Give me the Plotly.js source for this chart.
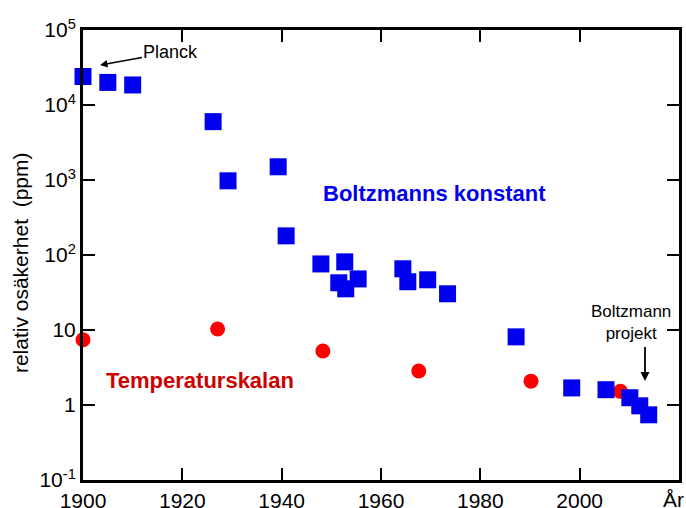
<!DOCTYPE html>
<html>
<head>
<meta charset="utf-8">
<script src="https://cdn.plot.ly/plotly-3.0.1.min.js"></script>
<style>html,body{margin:0;padding:0;background:#fff;}</style>
</head>
<body>
<div id="chart" style="width:686px;height:508px;"></div>
<script>
// Boltzmann constant determinations (blue squares)
const boltzYears = [1900, 1905, 1910, 1926.2, 1929.2, 1939.3, 1940.9, 1947.9, 1952.7, 1951.5, 1952.9, 1955.4, 1964.4, 1965.4, 1969.4, 1973.4, 1987.2, 1998.4, 2005.3, 2010.1, 2012.1, 2013.9];
const boltzPpm = [24000, 20000, 18500, 6000, 975, 1500, 180, 76, 81, 42.6, 35.4, 48, 65.5, 44, 46.7, 30.4, 8.1, 1.69, 1.6, 1.25, 0.975, 0.74];
// Temperature scale (red circles)
const tempYears = [1900, 1927.1, 1948.3, 1967.6, 1990.2, 2008.2];
const tempPpm = [7.4, 10.3, 5.25, 2.84, 2.08, 1.52];
// Axis ticks
const xTickVals = [1900, 1920, 1940, 1960, 1980, 2000];
const xTickText = ["1900", "1920", "1940", "1960", "1980", "2000"];
const yTickVals = [0.1, 1, 10, 100, 1000, 10000, 100000];
const yTickText = ["10<sup>-1</sup>", "1", "10", "10<sup>2</sup>", "10<sup>3</sup>", "10<sup>4</sup>", "10<sup>5</sup>"];

const FONT = '"Liberation Sans", Arial, sans-serif';

const traces = [
  {
    x: tempYears, y: tempPpm, type: 'scatter', mode: 'markers', cliponaxis: false,
    marker: {symbol: 'circle', size: 15, color: '#ff0000', line: {width: 0}},
    hoverinfo: 'skip'
  },
  {
    x: boltzYears, y: boltzPpm, type: 'scatter', mode: 'markers', cliponaxis: false,
    marker: {symbol: 'square', size: 17, color: '#0000ee', line: {width: 0}},
    hoverinfo: 'skip'
  }
];

const axisCommon = {
  showgrid: false, zeroline: false, showline: true, linewidth: 3, linecolor: '#000',
  ticks: 'inside', ticklen: 12, tickwidth: 2, tickcolor: '#000', mirror: 'ticks',
  tickfont: {family: FONT, size: 21, color: '#000'}
};

const layout = {
  width: 686, height: 508,
  margin: {l: 83, r: 7, t: 30, b: 28, pad: 0},
  paper_bgcolor: '#fff', plot_bgcolor: '#fff',
  showlegend: false,
  font: {family: FONT, color: '#000'},
  xaxis: Object.assign({}, axisCommon, {
    range: [1900, 2020], tickmode: 'array', tickvals: xTickVals, ticktext: xTickText,
    ticklabelstandoff: 0
  }),
  yaxis: Object.assign({}, axisCommon, {
    type: 'log', range: [-1, 5], tickmode: 'array', tickvals: yTickVals, ticktext: yTickText,
    ticklabelstandoff: 0
  }),
  annotations: [
    {xref: 'paper', yref: 'paper', x: 0.0285, y: 0.922, text: 'Planck',
     showarrow: true, ax: 71, ay: -13, arrowhead: 2, arrowsize: 1, arrowwidth: 1.5, arrowcolor: '#000',
     font: {family: FONT, size: 18, color: '#000'}},
    {xref: 'paper', yref: 'paper', x: 0.5906, y: 0.636, xanchor: 'center', yanchor: 'middle',
     text: '<b>Boltzmanns konstant</b>', showarrow: false,
     font: {family: FONT, size: 22, color: '#0000ee'}},
    {xref: 'paper', yref: 'paper', x: 0.1955, y: 0.222, xanchor: 'center', yanchor: 'middle',
     text: '<b>Temperaturskalan</b>', showarrow: false,
     font: {family: FONT, size: 22, color: '#cc0000'}},
    {xref: 'paper', yref: 'paper', x: 0.9195, y: 0.351, xanchor: 'center', yanchor: 'middle',
     text: 'Boltzmann<br>projekt', showarrow: false,
     font: {family: FONT, size: 17, color: '#000'}},
    {xref: 'paper', yref: 'paper', x: (645 - 83) / 596, y: (480 - 381) / 450, text: ' ',
     showarrow: true, ax: 0, ay: -38, arrowhead: 2, arrowsize: 1, arrowwidth: 1.8, arrowcolor: '#000',
     font: {family: FONT, size: 4, color: '#000'}},
    {xref: 'paper', yref: 'paper', x: 0.99, y: -0.044, xanchor: 'center', yanchor: 'middle',
     text: 'År', showarrow: false,
     font: {family: FONT, size: 21, color: '#000'}},
    {xref: 'paper', yref: 'paper', x: -0.1057, y: 0.482, xanchor: 'center', yanchor: 'middle',
     text: 'relativ osäkerhet  (ppm)', showarrow: false,
     textangle: -90, font: {family: FONT, size: 21, color: '#000'}}
  ]
};

Plotly.newPlot('chart', traces, layout, {displayModeBar: false, staticPlot: true});
</script>
</body>
</html>
